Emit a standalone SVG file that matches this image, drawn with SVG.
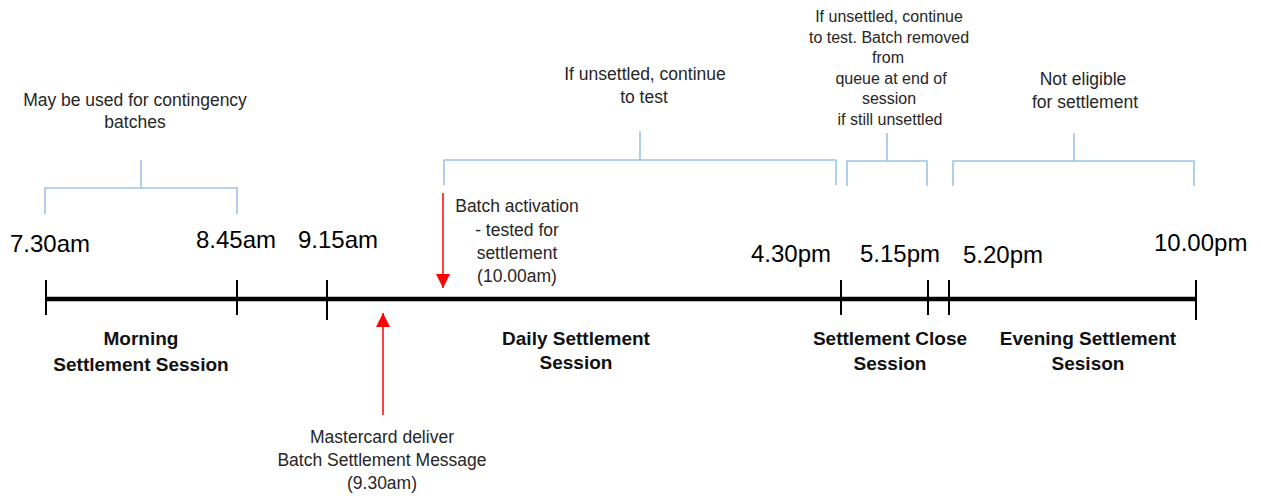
<svg xmlns="http://www.w3.org/2000/svg" width="1261" height="498" viewBox="0 0 1261 498">
<style>
.bg{fill:#ffffff}
.t{font-family:"Liberation Sans",Arial,sans-serif;fill:#262626}
.r{font-size:17.5px;text-anchor:middle}
.s{font-size:16px;text-anchor:middle}
.tm{font-size:24px;fill:#000}
.b{font-size:19px;font-weight:bold;text-anchor:middle;fill:#111}
.br{fill:none;stroke:#9DC3E6;stroke-width:1.6}
.axis{stroke:#000;stroke-width:4.5;fill:none}
.tick{stroke:#000;stroke-width:2}
.red{stroke:#FF0000;stroke-width:1.5;fill:none}
</style>
<defs>
<marker id="ahr" viewBox="0 0 14 14" refX="14" refY="7" markerWidth="14" markerHeight="14" markerUnits="userSpaceOnUse" orient="auto">
<path d="M0,0 L14,7 L0,14 z" fill="#FF0000"/>
</marker>
</defs>
<rect class="bg" x="0" y="0" width="1261" height="498"/>

<g id="timeline">
<line class="axis" x1="46" y1="299" x2="1196" y2="299"/>
<line class="tick" x1="46" y1="280" x2="46" y2="315"/>
<line class="tick" x1="237" y1="280" x2="237" y2="315"/>
<line class="tick" x1="327" y1="280" x2="327" y2="320"/>
<line class="tick" x1="841" y1="280" x2="841" y2="315"/>
<line class="tick" x1="928" y1="280" x2="928" y2="315"/>
<line class="tick" x1="949" y1="280" x2="949" y2="315"/>
<line class="tick" x1="1196" y1="280" x2="1196" y2="320"/>
</g>

<g id="times" class="t tm">
<text x="10" y="252">7.30am</text>
<text x="196" y="248">8.45am</text>
<text x="298" y="248">9.15am</text>
<text x="751" y="262">4.30pm</text>
<text x="860" y="262">5.15pm</text>
<text x="963" y="263">5.20pm</text>
<text x="1154" y="251">10.00pm</text>
</g>

<g id="connectors">
<path class="br" d="M45,214 V188 H237 V214 M141,160 V188"/>
<path class="br" d="M444,185 V160 H836 V185 M640,131 V160"/>
<path class="br" d="M847,186 V161 H927 V186 M887,133 V161"/>
<path class="br" d="M953,186 V161 H1194 V186 M1074,133 V161"/>
<line class="red" x1="443" y1="193" x2="443" y2="288" marker-end="url(#ahr)"/>
<line class="red" x1="383" y1="415" x2="383" y2="313" marker-end="url(#ahr)"/>
</g>

<g id="note-contingency" class="t r">
<text x="135" y="106">May be used for contingency</text>
<text x="135" y="128">batches</text>
</g>

<g id="note-daily" class="t r">
<text x="645" y="80">If unsettled, continue</text>
<text x="644" y="103">to test</text>
</g>

<g id="note-close" class="t s">
<text x="889" y="22">If unsettled, continue</text>
<text x="889" y="43">to test. Batch removed</text>
<text x="888" y="63">from</text>
<text x="891" y="84">queue at end of</text>
<text x="889" y="104">session</text>
<text x="890" y="125">if still unsettled</text>
</g>

<g id="note-evening" class="t r">
<text x="1083" y="85">Not eligible</text>
<text x="1085" y="108">for settlement</text>
</g>

<g id="batch-activation" class="t r">
<text x="517" y="212">Batch activation</text>
<text x="517" y="236">- tested for</text>
<text x="517" y="259">settlement</text>
<text x="517" y="282">(10.00am)</text>
</g>

<g id="mastercard" class="t r">
<text x="382" y="443">Mastercard deliver</text>
<text x="382" y="466">Batch Settlement Message</text>
<text x="382" y="489">(9.30am)</text>
</g>

<g id="session-morning" class="t b">
<text x="141" y="345">Morning</text>
<text x="141" y="371">Settlement Session</text>
</g>
<g id="session-daily" class="t b">
<text x="576" y="345">Daily Settlement</text>
<text x="576" y="369">Session</text>
</g>
<g id="session-close" class="t b">
<text x="890" y="345">Settlement Close</text>
<text x="890" y="370">Session</text>
</g>
<g id="session-evening" class="t b">
<text x="1088" y="345">Evening Settlement</text>
<text x="1088" y="370">Sesison</text>
</g>
</svg>
